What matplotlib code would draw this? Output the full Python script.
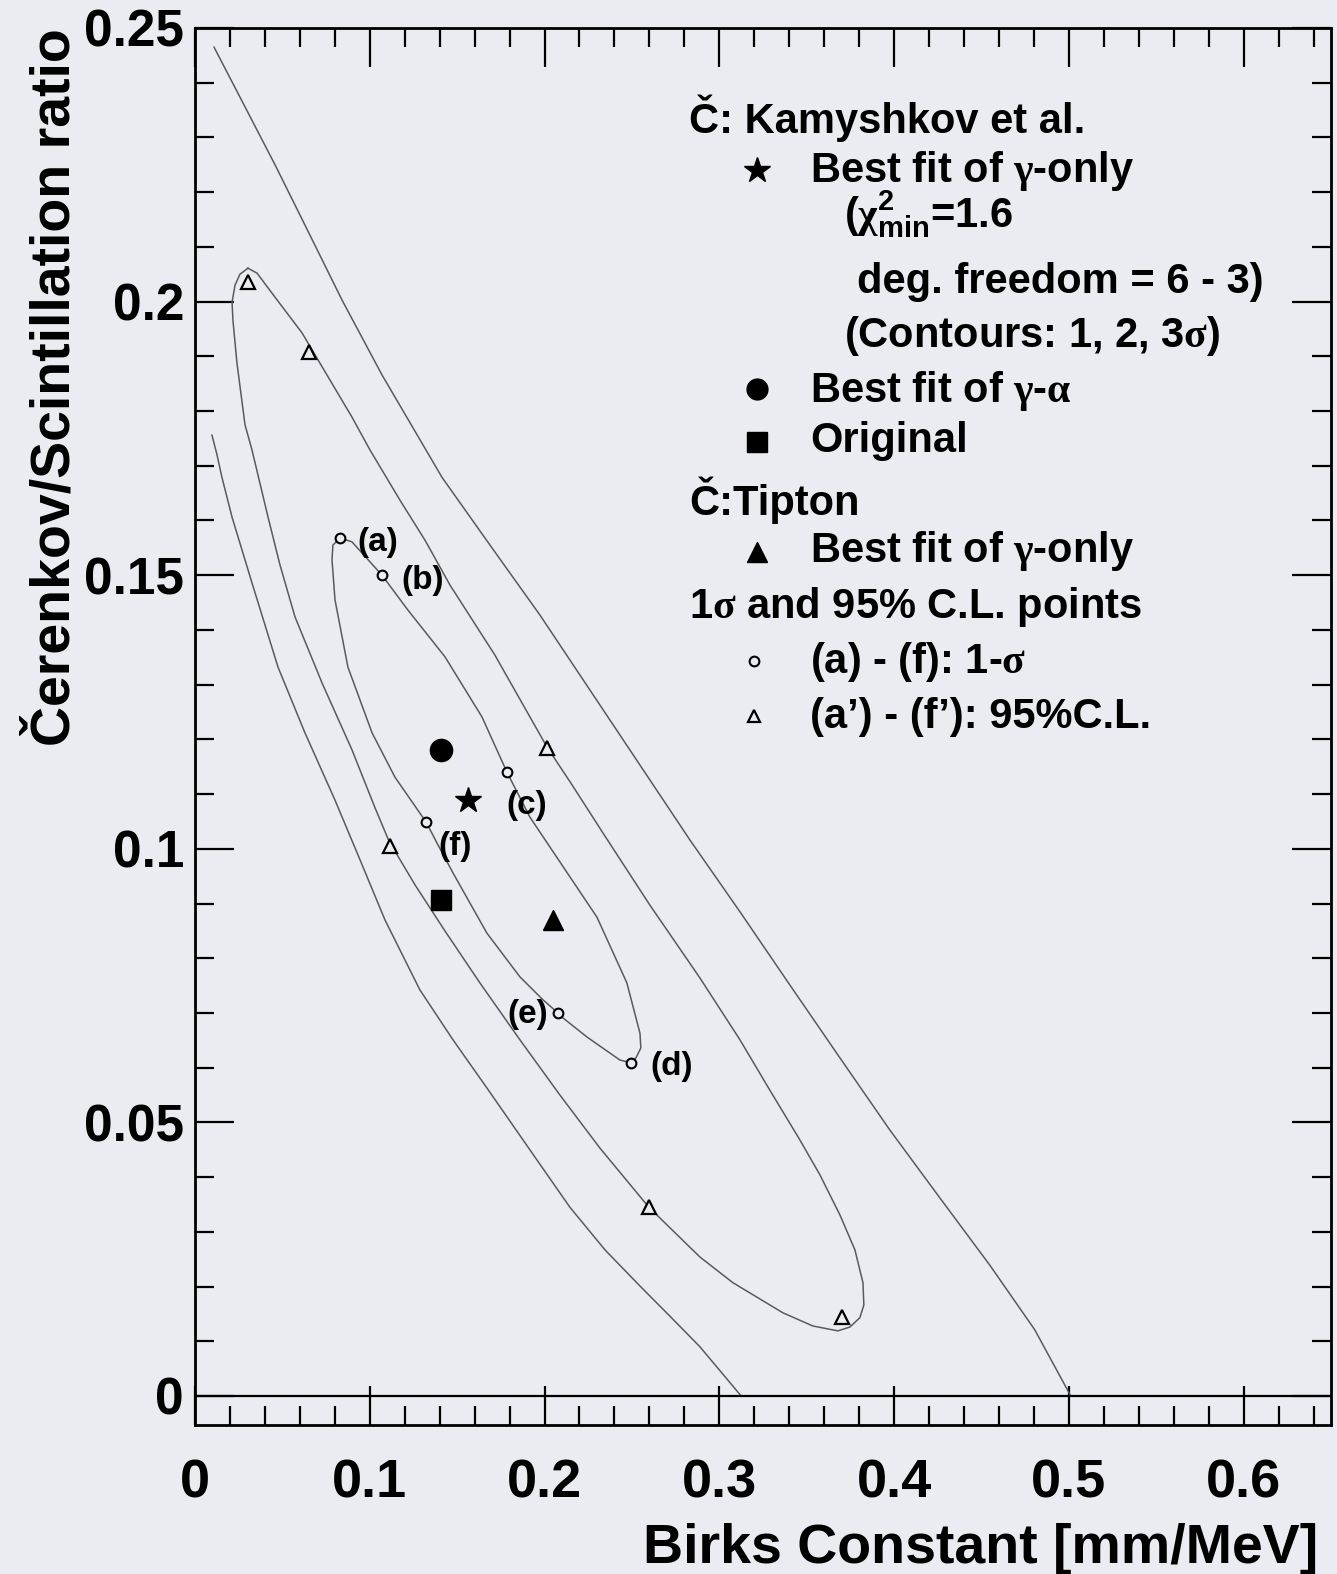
import numpy as np
import matplotlib.pyplot as plt
from matplotlib.ticker import MultipleLocator, FuncFormatter

plt.rcParams['font.family'] = ['Liberation Sans', 'DejaVu Sans']
plt.rcParams['font.weight'] = 'bold'
plt.rcParams['mathtext.fontset'] = 'custom'
plt.rcParams['mathtext.rm'] = 'Liberation Serif'
plt.rcParams['mathtext.it'] = 'Liberation Serif:italic'
plt.rcParams['mathtext.bf'] = 'Liberation Sans:bold'
plt.rcParams['mathtext.sf'] = 'Liberation Sans:bold'
plt.rcParams['mathtext.default'] = 'rm'

paper = '#eaecf1'
line_col = '#5a5a5a'

# 1 sigma contour (closed)
sig1_x = [0.0830, 0.0898, 0.1070, 0.1219, 0.1430, 0.1642, 0.1785, 0.1916, 0.2088, 0.2300,
          0.2471, 0.2546, 0.2551, 0.2523, 0.2494, 0.2431, 0.2243, 0.2105, 0.2077, 0.1991,
          0.1859, 0.1670, 0.1476, 0.1384, 0.1322, 0.1144, 0.1013, 0.0875, 0.0801, 0.0784,
          0.0789, 0.0830]
sig1_y = [0.1568, 0.1561, 0.1500, 0.1436, 0.1351, 0.1241, 0.1140, 0.1058, 0.0976, 0.0875,
          0.0755, 0.0663, 0.0636, 0.0618, 0.0609, 0.0614, 0.0656, 0.0691, 0.0700, 0.0724,
          0.0766, 0.0846, 0.0956, 0.1011, 0.1049, 0.1131, 0.1212, 0.1332, 0.1455, 0.1528,
          0.1555, 0.1568]

# 2 sigma contour (closed)
sig2_x = [0.0303, 0.0355, 0.0458, 0.0612, 0.0727, 0.0898, 0.1001, 0.1173, 0.1316, 0.1459,
          0.1716, 0.2014, 0.2157, 0.2334, 0.2603, 0.2889, 0.3118, 0.3289, 0.3461, 0.3576,
          0.3690, 0.3776, 0.3822, 0.3827, 0.3804, 0.3747, 0.3678, 0.3535, 0.3364, 0.3078,
          0.2889, 0.2597, 0.2317, 0.2088, 0.1859, 0.1630, 0.1430, 0.1259, 0.1110, 0.1030,
          0.0898, 0.0727, 0.0572, 0.0486, 0.0418, 0.0326, 0.0286, 0.0240, 0.0217, 0.0212,
          0.0229, 0.0257, 0.0303]
sig2_y = [0.2061, 0.2052, 0.2008, 0.1943, 0.1881, 0.1789, 0.1729, 0.1637, 0.1564, 0.1482,
          0.1354, 0.1186, 0.1117, 0.1029, 0.0897, 0.0764, 0.0651, 0.0559, 0.0468, 0.0404,
          0.0331, 0.0267, 0.0207, 0.0166, 0.0143, 0.0126, 0.0119, 0.0128, 0.0152, 0.0207,
          0.0254, 0.0345, 0.0453, 0.0550, 0.0651, 0.0755, 0.0850, 0.0934, 0.1014, 0.1075,
          0.1181, 0.1303, 0.1424, 0.1519, 0.1606, 0.1729, 0.1775, 0.1888, 0.1966, 0.1999,
          0.2030, 0.2050, 0.2061]

# 3 sigma contour, open at the grid edges
sig3r_x = [0.0109, 0.0286, 0.0458, 0.0629, 0.0841, 0.1070, 0.1413, 0.1688, 0.1974, 0.2260,
           0.2546, 0.2832, 0.3118, 0.3404, 0.3690, 0.3976, 0.4262, 0.4548, 0.4805, 0.5011]
sig3r_y = [0.2465, 0.2356, 0.2250, 0.2140, 0.2003, 0.1866, 0.1679, 0.1555, 0.1427, 0.1290,
           0.1153, 0.1016, 0.0885, 0.0751, 0.0618, 0.0486, 0.0362, 0.0239, 0.0121, 0.0]
sig3l_x = [0.0097, 0.0126, 0.0154, 0.0212, 0.0326, 0.0475, 0.0629, 0.0801, 0.0944, 0.1087,
           0.1287, 0.1476, 0.1670, 0.1916, 0.2145, 0.2346, 0.2546, 0.2717, 0.2889, 0.3125]
sig3l_y = [0.1756, 0.1720, 0.1679, 0.1606, 0.1486, 0.1332, 0.1212, 0.1089, 0.0980, 0.0870,
           0.0742, 0.0651, 0.0563, 0.0450, 0.0345, 0.0267, 0.0201, 0.0146, 0.0090, 0.0]

# best fits
kam_gamma = (0.156, 0.109)
kam_gamma_alpha = (0.1407, 0.1181)
original = (0.1407, 0.0906)
tipton_gamma = (0.2048, 0.0870)

# 1 sigma points (a)-(f)
pt1_labels = ['(a)', '(b)', '(c)', '(d)', '(e)', '(f)']
pt1_x = [0.0830, 0.1070, 0.1785, 0.2494, 0.2077, 0.1322]
pt1_y = [0.1568, 0.1500, 0.1140, 0.0609, 0.0700, 0.1049]
pt1_offsets = [(27, -3), (29, -4), (14, -24), (29, -3), (-22, -1), (21, -18)]

# 95% C.L. points (a')-(f')
pt95_x = [0.0303, 0.0652, 0.2014, 0.1116, 0.2597, 0.3701]
pt95_y = [0.2036, 0.1908, 0.1184, 0.1005, 0.0345, 0.0144]

W, H = 1337, 1574
fig = plt.figure(figsize=(W / 100, H / 100), dpi=100, facecolor=paper)
ax = fig.add_axes([195 / W, 149 / H, 1136 / W, 1397 / H], facecolor=paper)

for xs, ys in [(sig1_x, sig1_y), (sig2_x, sig2_y), (sig3r_x, sig3r_y), (sig3l_x, sig3l_y)]:
    ax.plot(xs, ys, color=line_col, lw=1.1, zorder=2)

ax.axhline(0, color='k', lw=1.6, zorder=3)

ax.plot(*kam_gamma, marker='*', ms=19, color='k', ls='none', zorder=5)
ax.plot(*kam_gamma_alpha, marker='o', ms=16, color='k', ls='none', zorder=5)
ax.plot(*original, marker='s', ms=15, color='k', ls='none', zorder=5)
ax.plot(*tipton_gamma, marker='^', ms=14, color='k', ls='none', zorder=5)
ax.plot(pt1_x, pt1_y, marker='o', ms=7, mew=1.5, mfc=paper, mec='k', ls='none', zorder=5)
ax.plot(pt95_x, pt95_y, marker='^', ms=10, mew=1.6, mfc=paper, mec='k', ls='none', zorder=5)

for lab, x, y, off in zip(pt1_labels, pt1_x, pt1_y, pt1_offsets):
    ax.annotate(lab, (x, y), xytext=off, textcoords='offset points',
                ha='center', va='center', fontsize=24, fontweight='bold')

ax.set_xlim(0, 0.65)
ax.set_ylim(-0.0053, 0.25)
ax.xaxis.set_major_locator(MultipleLocator(0.1))
ax.xaxis.set_minor_locator(MultipleLocator(0.02))
ax.yaxis.set_major_locator(MultipleLocator(0.05))
ax.yaxis.set_minor_locator(MultipleLocator(0.01))
fmt = FuncFormatter(lambda v, p: f'{v:g}')
ax.xaxis.set_major_formatter(fmt)
ax.yaxis.set_major_formatter(fmt)
ax.tick_params(which='both', direction='in', top=True, right=True, width=1.6, color='k')
ax.tick_params(which='major', length=28)
ax.tick_params(which='minor', length=14)
ax.tick_params(axis='x', pad=24, labelsize=39)
ax.tick_params(axis='y', pad=8, labelsize=37)
for sp in ax.spines.values():
    sp.set_linewidth(2.0)

fig.text(1318 / W, 1 - 1563 / H, 'Birks Constant [mm/MeV]', ha='right', va='baseline',
         fontsize=40, fontweight='bold')
fig.text(56 / W, 1 - 28 / H, 'Čerenkov/Scintillation ratio', rotation=90,
         ha='center', va='top', fontsize=40, fontweight='bold')

# key on the right
fs = 30
rows = [
    ('Č: Kamyshkov et al.', 689, 133),
    (r'Best fit of $\gamma$-only', 810, 182),
    (r'($\chi^{\mathsf{2}}_{\mathsf{min}}$=1.6', 844, 228),
    ('deg. freedom = 6 - 3)', 857, 293),
    (r'(Contours: 1, 2, 3$\sigma$)', 844, 347),
    (r'Best fit of $\gamma$-$\alpha$', 810, 402),
    ('Original', 810, 452),
    ('Č:Tipton', 689, 515),
    (r'Best fit of $\gamma$-only', 810, 562),
    (r'1$\sigma$ and 95% C.L. points', 689, 618),
    (r'(a) - (f): 1-$\sigma$', 810, 673),
    ('(a’) - (f’): 95%C.L.', 810, 728),
]
for txt, px, py in rows:
    fig.text(px / W, 1 - py / H, txt, ha='left', va='baseline', fontsize=fs, fontweight='bold')

keys = [
    (757, 170, dict(marker='*', ms=19, color='k')),
    (757, 389, dict(marker='o', ms=15, color='k')),
    (757, 442, dict(marker='s', ms=14, color='k')),
    (757, 552, dict(marker='^', ms=14, color='k')),
    (754, 661, dict(marker='o', ms=7, mew=1.5, mfc=paper, mec='k')),
    (754, 716, dict(marker='^', ms=9, mew=1.6, mfc=paper, mec='k')),
]
for px, py, kw in keys:
    ax.plot([px / W], [1 - py / H], ls='none', transform=fig.transFigure, clip_on=False, **kw)

fig.savefig('out.png', dpi=100, facecolor=paper)
